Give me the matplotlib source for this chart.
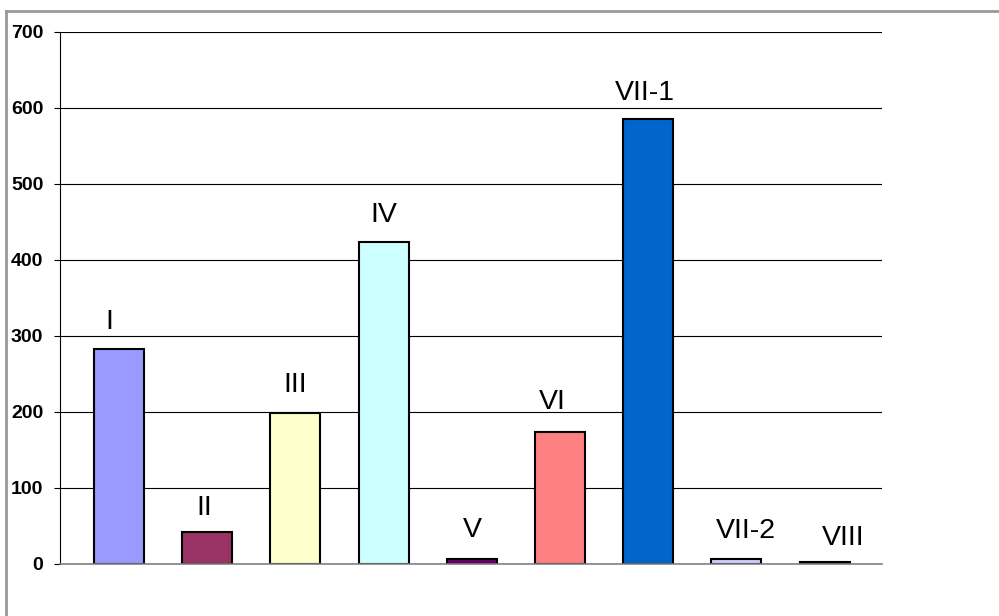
import matplotlib.pyplot as plt
from matplotlib.lines import Line2D

# data
categories = ['I', 'II', 'III', 'IV', 'V', 'VI', 'VII-1', 'VII-2', 'VIII']
values = [283, 42, 199, 424, 6, 174, 586, 6, 2]
colors = ['#9999FF', '#993366', '#FFFFCC', '#CCFFFF', '#660066',
          '#FF8080', '#0066CC', '#CCCCFF', '#000080']

# label nudges in pixels (dx, dy above bar top)
label_dx = [-10, -3, 0, 0, 1, -8, -3, 9, 19]
label_dy = [27, 24, 28, 27, 29, 30, 26, 28, 24]

plt.rcParams['font.family'] = ['Liberation Sans', 'DejaVu Sans']

W, H = 999, 616
fig = plt.figure(figsize=(W / 100, H / 100), dpi=100)
ax = fig.add_axes([60 / W, (H - 564) / H, 822 / W, 532 / H])

x = list(range(len(categories)))
ax.bar(x, values, width=0.567, color=colors, edgecolor='black', linewidth=1.5, zorder=3)

for i in x:
    ax.annotate(categories[i], (i, values[i]),
                xytext=(label_dx[i] * 0.72, label_dy[i] * 0.72),
                textcoords='offset points', ha='center', va='center', fontsize=20.5)

ax.set_xlim(-0.669, 8.65)
ax.set_ylim(0, 700)
ax.set_yticks(range(0, 701, 100))
ax.set_xticks([])
ax.grid(axis='y', color='black', linewidth=0.8, zorder=0)
ax.tick_params(axis='y', direction='out', length=4, width=0.8, labelsize=14, pad=8)
for lbl in ax.get_yticklabels():
    lbl.set_fontweight('bold')

for s in ['top', 'right']:
    ax.spines[s].set_visible(False)
ax.spines['left'].set_color('black')
ax.spines['left'].set_linewidth(0.8)
ax.spines['bottom'].set_color('#808080')
ax.spines['bottom'].set_linewidth(1.2)
ax.spines['bottom'].set_zorder(4)

# outer frame (left and top only, rest runs off the picture)
fig.add_artist(Line2D([6 / W, 6 / W], [0, 1 - 11 / H], color='#999999', linewidth=2))
fig.add_artist(Line2D([6 / W, 1], [1 - 11 / H, 1 - 11 / H], color='#999999', linewidth=2))

fig.savefig('out.png', dpi=100)
